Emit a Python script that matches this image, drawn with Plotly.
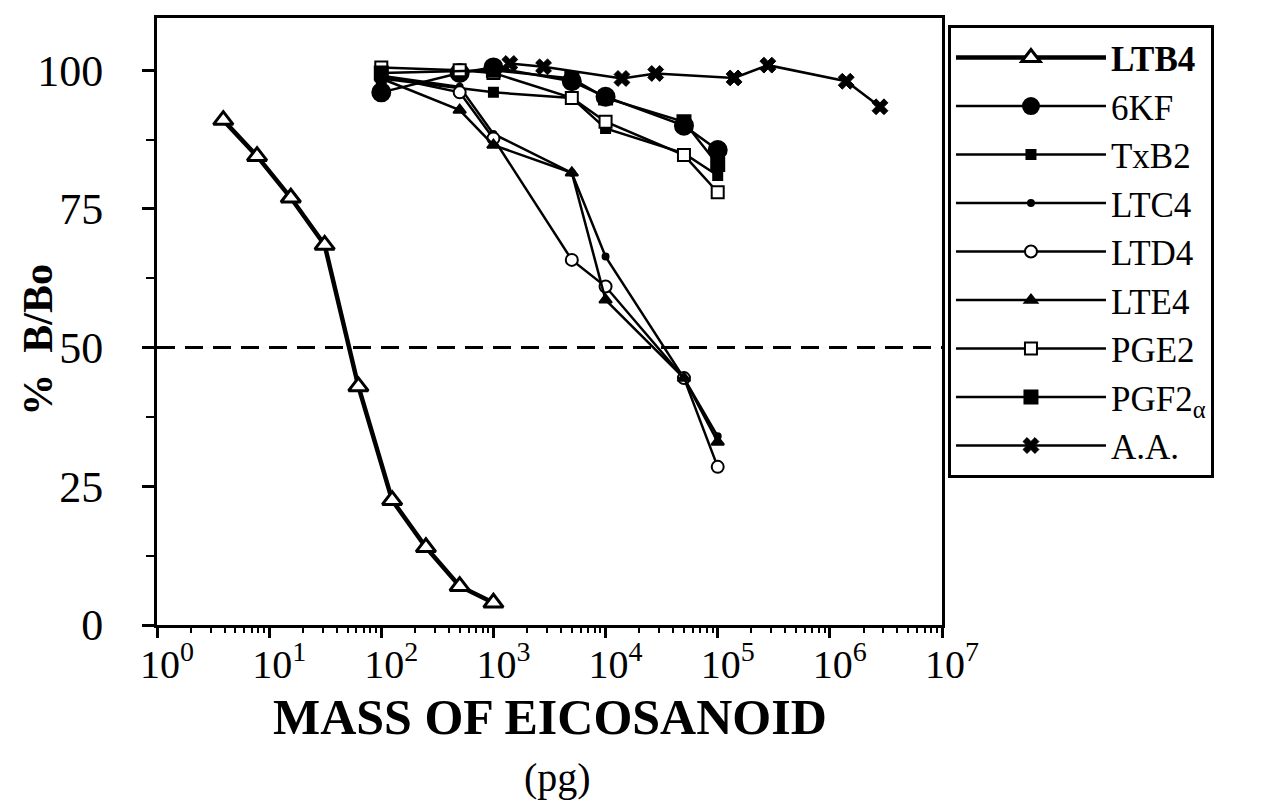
import plotly.graph_objects as go

# ---------------- data ----------------
ltb4_x = [3.9, 7.8, 15.6, 31.25, 62.5, 125, 250, 500, 1000]
ltb4_y = [91, 84.5, 77, 68.5, 43, 22.5, 14, 7, 4]

kf6_x = [100, 500, 1000, 5000, 10000, 50000, 100000]
kf6_y = [96, 99.5, 100.5, 98, 95.2, 90, 85.6]

txb2_x = [100, 1000, 5000, 10000, 50000, 100000]
txb2_y = [98.5, 96, 95, 89.5, 85, 81]

ltc4_x = [100, 500, 1000, 5000, 10000, 50000, 100000]
ltc4_y = [99, 97, 88.5, 81.5, 66.4, 44.5, 34]

ltd4_x = [100, 500, 1000, 5000, 10000, 50000, 100000]
ltd4_y = [99, 96, 87.7, 65.8, 61, 44.5, 28.5]

lte4_x = [100, 500, 1000, 5000, 10000, 50000, 100000]
lte4_y = [98.5, 92.8, 86.5, 81.5, 58.6, 44.5, 33]

pge2_x = [100, 500, 1000, 5000, 10000, 50000, 100000]
pge2_y = [100.5, 100, 99.5, 95, 90.7, 84.7, 78]

pgf2a_x = [100, 1000, 5000, 10000, 50000, 100000]
pgf2a_y = [99.5, 100, 98.5, 95, 90.7, 83]

aa_x = [1400, 2800, 14000, 28000, 140000, 280000, 1400000, 2800000]
aa_y = [101.2, 100.6, 98.5, 99.4, 98.6, 100.9, 98, 93.4]

x_tickvals = [1, 10, 100, 1000, 10000, 100000, 1000000, 10000000]
x_ticktext = ["10<sup>0</sup>", "10<sup>1</sup>", "10<sup>2</sup>", "10<sup>3</sup>",
              "10<sup>4</sup>", "10<sup>5</sup>", "10<sup>6</sup>", "10<sup>7</sup>"]
y_tickvals = [0, 25, 50, 75, 100]
half_level = 50

# ---------------- figure ----------------
FONT = "Liberation Serif"
fig = go.Figure()


def add(name, xs, ys, symbol, size, fill, lw=2.5, mlw=2):
    fig.add_trace(go.Scatter(
        x=xs, y=ys, name=name, mode="lines+markers",
        line=dict(color="black", width=lw),
        marker=dict(symbol=symbol, size=size, color=fill,
                    line=dict(color="black", width=mlw)),
    ))


add("<b>LTB4</b>", ltb4_x, ltb4_y, "triangle-up", 17, "white", lw=4.5, mlw=3)
add("6KF", kf6_x, kf6_y, "circle", 18, "black")
add("TxB2", txb2_x, txb2_y, "square", 9, "black")
add("LTC4", ltc4_x, ltc4_y, "circle", 6, "black")
add("LTD4", ltd4_x, ltd4_y, "circle", 12, "white")
add("LTE4", lte4_x, lte4_y, "triangle-up", 11, "black")
add("PGE2", pge2_x, pge2_y, "square", 12, "white")
add("PGF2<sub>α</sub>", pgf2a_x, pgf2a_y, "square", 13, "black")
add("A.A.", aa_x, aa_y, "x", 14, "black", mlw=1)

fig.add_hline(y=half_level, line=dict(color="black", width=3, dash="18px,10px"))

minor_x = [k * 10 ** d for d in range(7) for k in range(2, 10)]

fig.update_xaxes(
    type="log", range=[0, 7],
    tickmode="array", tickvals=x_tickvals, ticktext=x_ticktext,
    ticks="outside", ticklen=10, tickwidth=3, tickcolor="black",
    minor=dict(tickmode="array", tickvals=minor_x, ticks="outside",
               ticklen=5, tickwidth=2, tickcolor="black", showgrid=False),
    showline=True, linewidth=3, linecolor="black", mirror=True,
    showgrid=False, zeroline=False,
    tickfont=dict(family=FONT, size=40, color="black"),
    ticklabelstandoff=-8, ticklabelshift=10,
)
fig.update_yaxes(
    range=[0, 109.4],
    tickmode="array", tickvals=y_tickvals,
    ticks="outside", ticklen=12, tickwidth=3, tickcolor="black",
    minor=dict(dtick=12.5, ticks="outside", ticklen=8, tickwidth=2,
               tickcolor="black", showgrid=False),
    showline=True, linewidth=3, linecolor="black", mirror=True,
    showgrid=False, zeroline=False,
    tickfont=dict(family=FONT, size=44, color="black"),
    ticklabelstandoff=30,
)

fig.add_annotation(text="<b>MASS OF EICOSANOID</b>", xref="paper", yref="paper",
                   x=0.5006, y=-0.152, showarrow=False, yanchor="middle",
                   font=dict(family=FONT, size=50, color="black"))
fig.add_annotation(text="(pg)", xref="paper", yref="paper",
                   x=0.51, y=-0.252, showarrow=False, yanchor="middle",
                   font=dict(family=FONT, size=40, color="black"))
fig.add_annotation(text="<b>%  B/Bo</b>", xref="paper", yref="paper",
                   x=-0.152, y=0.4695, showarrow=False, textangle=-90,
                   xanchor="center", yanchor="middle",
                   font=dict(family=FONT, size=42, color="black"))

fig.update_layout(
    width=1265, height=806,
    margin=dict(l=157, r=323, t=18, b=181),
    paper_bgcolor="white", plot_bgcolor="white",
    font=dict(family=FONT, color="black"),
    legend=dict(
        x=1.0076, y=0.988, xanchor="left", yanchor="top",
        bordercolor="black", borderwidth=3, bgcolor="white",
        font=dict(family=FONT, size=35, color="black"),
        itemwidth=150, tracegroupgap=0,
    ),
)

fig.write_html("out.html")
